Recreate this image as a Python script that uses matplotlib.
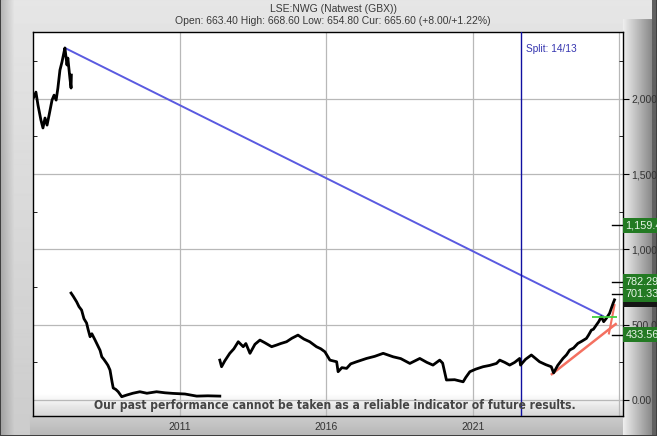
import numpy as np
import matplotlib
matplotlib.use("Agg")
import matplotlib.pyplot as plt
from matplotlib.patches import Rectangle
from matplotlib.transforms import blended_transform_factory

plt.rcParams['font.family'] = ['Liberation Sans', 'DejaVu Sans']

# price history (decimal year, GBX); three stretches
seg1_x = [2006.01, 2006.08, 2006.15, 2006.25, 2006.32, 2006.39, 2006.46, 2006.53,
          2006.63, 2006.70, 2006.77, 2006.83, 2006.90, 2006.97, 2007.04, 2007.07,
          2007.14, 2007.17, 2007.24, 2007.28, 2007.29]
seg1_y = [2011, 2044, 1958, 1859, 1806, 1872, 1825, 1892,
          1991, 2024, 1991, 2071, 2190, 2244, 2310, 2337,
          2224, 2270, 2137, 2071, 2157]

seg2_x = [2007.28, 2007.35, 2007.47, 2007.55, 2007.64, 2007.72, 2007.81, 2007.86,
          2007.93, 2007.99, 2008.10, 2008.21, 2008.27, 2008.33, 2008.40, 2008.49,
          2008.54, 2008.61, 2008.68, 2008.72, 2008.81, 2008.89, 2009.01, 2009.18,
          2009.39, 2009.63, 2009.87, 2010.20, 2010.49, 2010.76, 2011.17, 2011.57,
          2011.95, 2012.36]
seg2_y = [710, 690, 652, 620, 597, 540, 511, 470,
          420, 440, 398, 354, 330, 287, 270, 245,
          230, 199, 120, 80, 70, 55, 22, 33,
          45, 55, 45, 55, 48, 44, 40, 26,
          28, 26]

seg3_x = [2012.36, 2012.42, 2012.53, 2012.70, 2012.84, 2012.99, 2013.16, 2013.25,
          2013.39, 2013.56, 2013.73, 2013.90, 2014.13, 2014.30, 2014.44, 2014.64,
          2014.82, 2015.03, 2015.23, 2015.43, 2015.66, 2015.81, 2015.95, 2016.12,
          2016.35, 2016.40, 2016.53, 2016.69, 2016.83, 2017.03, 2017.37, 2017.65,
          2017.94, 2018.28, 2018.54, 2018.85, 2019.19, 2019.43, 2019.64, 2019.87,
          2019.97, 2020.10, 2020.38, 2020.67, 2020.76, 2020.90, 2021.10, 2021.35,
          2021.58, 2021.81, 2021.92, 2022.09, 2022.26, 2022.43, 2022.60, 2022.63,
          2022.80, 2023.00, 2023.15, 2023.28, 2023.49, 2023.68, 2023.76, 2023.90,
          2024.08, 2024.20, 2024.31, 2024.44, 2024.59, 2024.72, 2024.88, 2024.95,
          2025.05, 2025.12, 2025.22, 2025.30, 2025.39, 2025.47, 2025.56, 2025.67,
          2025.79, 2025.84]
seg3_y = [265, 221, 260, 310, 340, 387, 354, 375,
          310, 370, 398, 380, 354, 365, 375, 387,
          410, 431, 405, 387, 354, 340, 320, 265,
          254, 188, 215, 210, 240, 254, 276, 290,
          310, 287, 275, 243, 276, 250, 232, 265,
          245, 133, 135, 121, 150, 188, 205, 221,
          230, 243, 265, 250, 232, 250, 276, 232,
          270, 299, 275, 254, 235, 221, 180, 230,
          276, 300, 332, 345, 376, 390, 409, 430,
          464, 470, 498, 520, 553, 520, 542, 575,
          641, 665]

# drawn lines
blue_trend_x = [2007.07, 2025.45]
blue_trend_y = [2337, 557]
split_x = 2022.63
green_x = [2025.07, 2025.93]
green_y = 551
red_long_x = [2023.70, 2025.88]
red_long_y = [172, 504]
red_short_x = [2025.65, 2025.84]
red_short_y = [442, 630]

# right-hand level boxes
box_values = [1159.44, 782.29, 701.33, 433.56]
box_labels = ['1,159.44', '782.29', '701.33', '433.56']
cur_value = 665.60

year_ticks = [2011, 2016, 2021, 2026]
year_labels = ['2011', '2016', '2021', '']
price_ticks = [0, 500, 1000, 1500, 2000]

W, H = 657, 436
fig = plt.figure(figsize=(W / 100, H / 100), dpi=100)

# frame background
img = np.linspace(0.90, 0.80, H)[:, None] * np.ones((1, W))
cols = np.arange(W)
img *= (0.78 + 0.22 * np.clip(cols / 14.0, 0, 1))[None, :]
t = np.clip((cols - 623) / 29.0, 0, 1)
right = 0.93 - 0.40 * t
img[20:, 623:652] = right[None, 623:652]
img[:, 652:] = 0.38
img[416:, 30:623] = np.linspace(0.80, 0.72, H - 416)[:, None]
img[0, :] = img[-1, :] = 0.25
img[:, 0] = img[:, -1] = 0.25
bg = fig.add_axes([0, 0, 1, 1])
bg.imshow(img, cmap='gray', vmin=0, vmax=1, aspect='auto', interpolation='bilinear')
bg.set_axis_off()

ax = fig.add_axes([33 / W, 1 - 416 / H, (623 - 33) / W, (416 - 32) / H])
ax.set_facecolor('white')
ax.set_xlim(2005.98, 2026.13)
ax.set_ylim(-106, 2443)

# disclaimer band
band = np.linspace(1.0, 0.84, 40)[:, None]
ax.imshow(band, cmap='gray', vmin=0, vmax=1, aspect='auto',
          extent=[0, 1, 0, 0.055], transform=ax.transAxes, zorder=0)

for yv in price_ticks:
    ax.axhline(yv, color='#b8b8b8', lw=0.9, zorder=1)
for xv in year_ticks:
    ax.axvline(xv, color='#b8b8b8', lw=0.9, zorder=1)

for sx, sy in [(seg1_x, seg1_y), (seg2_x, seg2_y), (seg3_x, seg3_y)]:
    ax.plot(sx, sy, color='black', lw=2.0, zorder=4)

ax.plot(blue_trend_x, blue_trend_y, color='#5a5ae0', lw=1.4, zorder=3)
ax.axvline(split_x, color='#1010a0', lw=1.0, zorder=3)
ax.text(split_x + 0.2, 2330, 'Split: 14/13', color='#3535b0', fontsize=7.3,
        ha='left', va='center', zorder=5)
ax.plot(red_long_x, red_long_y, color='#f47060', lw=1.8, zorder=3)
ax.plot(red_short_x, red_short_y, color='#f47060', lw=1.5, zorder=3)
ax.hlines(green_y, green_x[0], green_x[1], color='#40d040', lw=1.3, zorder=5)

disc = ax.text(0.512, 0.028,
               'Our past performance cannot be taken as a reliable indicator of future results.',
               transform=ax.transAxes, ha='center', va='center', fontsize=11,
               fontweight='bold', fontstretch='condensed', color='#454545',
               family=['DejaVu Sans'], zorder=6)

ax.set_xticks(year_ticks)
ax.set_xticklabels(year_labels)
ax.set_yticks(price_ticks)
ax.set_yticklabels(['{:,.2f}'.format(v) for v in price_ticks])
ax.set_yticks(np.arange(250, 2500, 500), minor=True)
ax.yaxis.tick_right()
ax.tick_params(axis='y', which='major', left=False, right=True, labelleft=False,
               labelright=True, labelsize=7.5, labelcolor='#333333', pad=2,
               length=4, direction='out')
ax.tick_params(axis='y', which='minor', left=True, right=True, length=3,
               direction='in')
ax.tick_params(axis='x', length=0, labelsize=7.5, labelcolor='#333333', pad=4)
for s in ax.spines.values():
    s.set_color('black')
    s.set_linewidth(1.0)

# level markers and boxes on the right
tr = blended_transform_factory(ax.transAxes, ax.transData)
ax.add_patch(Rectangle((1.0, cur_value - 45), 0.06, 45, transform=tr,
                       fc='#151515', ec='none', clip_on=False, zorder=7))
for v, lab in zip(box_values, box_labels):
    ax.plot([0.982, 1.0], [v, v], transform=tr, color='black', lw=1.0,
            clip_on=False, zorder=6)
    ax.text(1.004, v, lab, transform=tr, ha='left', va='center', fontsize=7.8,
            color='#e8f5e8', clip_on=False, zorder=8,
            bbox=dict(boxstyle='square,pad=0.25', fc='#237a23', ec='none'))

fig.text(333 / W, 1 - 9 / H, 'LSE:NWG (Natwest (GBX))', ha='center', va='center',
         fontsize=7.5, color='#3a3a3a')
fig.text(333 / W, 1 - 21 / H,
         'Open: 663.40 High: 668.60 Low: 654.80 Cur: 665.60 (+8.00/+1.22%)',
         ha='center', va='center', fontsize=7.5, color='#3a3a3a')

# fit the disclaimer to the width it has in the original
fig.canvas.draw()
w = disc.get_window_extent().width
disc.set_fontsize(11 * 482.0 / w)

fig.savefig('out.png', dpi=100)
